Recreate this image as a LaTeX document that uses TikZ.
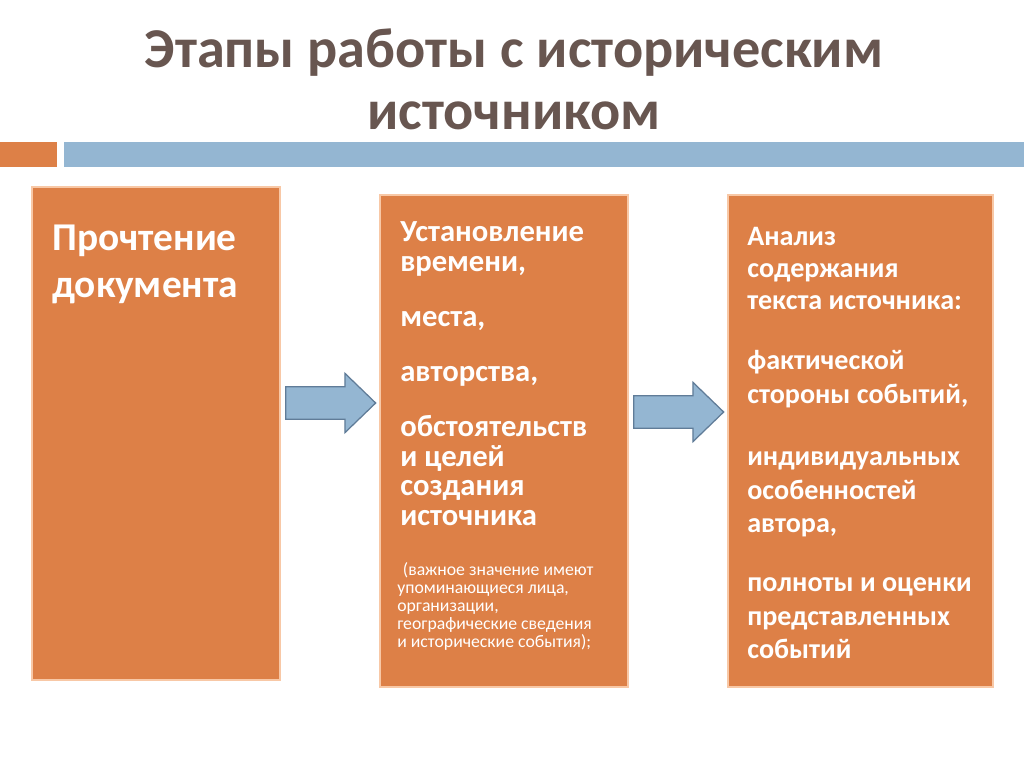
\documentclass[tikz,border=0pt]{standalone}
\usepackage{fontspec}
\setmainfont{Carlito}
\usetikzlibrary{shapes.arrows}

\definecolor{stageorange}{RGB}{221,128,71}
\definecolor{stageedge}{RGB}{196,104,52}
\definecolor{stagerim}{RGB}{248,200,166}
\definecolor{barblue}{RGB}{148,182,210}
\definecolor{arrowedge}{RGB}{96,124,152}
\definecolor{titlebrown}{RGB}{104,86,80}

\tikzset{
  stagebox/.style={rectangle, fill=stageorange, draw=stageedge, line width=0.35pt,
    double=stagerim, double distance=1.1pt, inner sep=0pt},
  stagetext/.style={anchor=north west, inner sep=0pt, align=left, text=white},
  flowarrow/.style={single arrow, fill=barblue, draw=arrowedge, line width=0.9pt,
    inner xsep=0pt, inner ysep=0.3875cm, minimum height=2.25cm, minimum width=1.45cm,
    single arrow head extend=0.3375cm, single arrow tip angle=88, anchor=tail}
}

\begin{document}
\begin{tikzpicture}[x=0.025cm, y=-0.025cm]
    \useasboundingbox[fill=white] (0, 0) rectangle (1024, 767);

    \node[font=\bfseries\fontsize{40}{44}\selectfont, text=titlebrown, align=center]
        (title) at (514, 79) {Этапы работы с историческим\\источником};

    \fill[stageorange] (0, 142) rectangle (57, 167);
    \fill[barblue] (64, 142) rectangle (1024, 167);

    % three stages
    \node[stagebox, minimum width=6.2cm, minimum height=12.325cm] (reading) at (156, 433.5) {};
    \node[stagebox, minimum width=6.2cm, minimum height=12.3cm] (dating) at (504, 441) {};
    \node[stagebox, minimum width=6.625cm, minimum height=12.3cm] (analysis) at (860.5, 441) {};

    \node[stagetext, font=\bfseries\fontsize{28}{33.4}\selectfont] (readingtext) at (52, 225)
        {Прочтение\\документа};

    \node[stagetext, font=\bfseries\fontsize{21.8}{21.3}\selectfont] (datingtext) at (400, 221)
        {Установление\\времени,\\[17.8pt]места,\\[17.8pt]авторства,\\[17.8pt]обстоятельств\\и целей\\создания\\источника};
    \node[stagetext, font=\fontsize{12.6}{12.9}\selectfont] (datingnote) at (397, 562)
        {\hspace*{4pt}(важное значение имеют\\упоминающиеся лица,\\организации,\\географические сведения\\и исторические события);};

    \node[stagetext, font=\bfseries\fontsize{20}{23.7}\selectfont] (analysistext) at (747, 227)
        {Анализ\\[-0.9pt]содержания\\[-0.9pt]текста источника:\\[19pt]фактической\\стороны событий,\\[20.9pt]индивидуальных\\особенностей\\автора,\\[18.5pt]полноты и оценки\\представленных\\событий};

    % arrows between stages
    \node[flowarrow] (step1) at (285, 403) {};
    \node[flowarrow] (step2) at (633, 412) {};
\end{tikzpicture}
\end{document}
